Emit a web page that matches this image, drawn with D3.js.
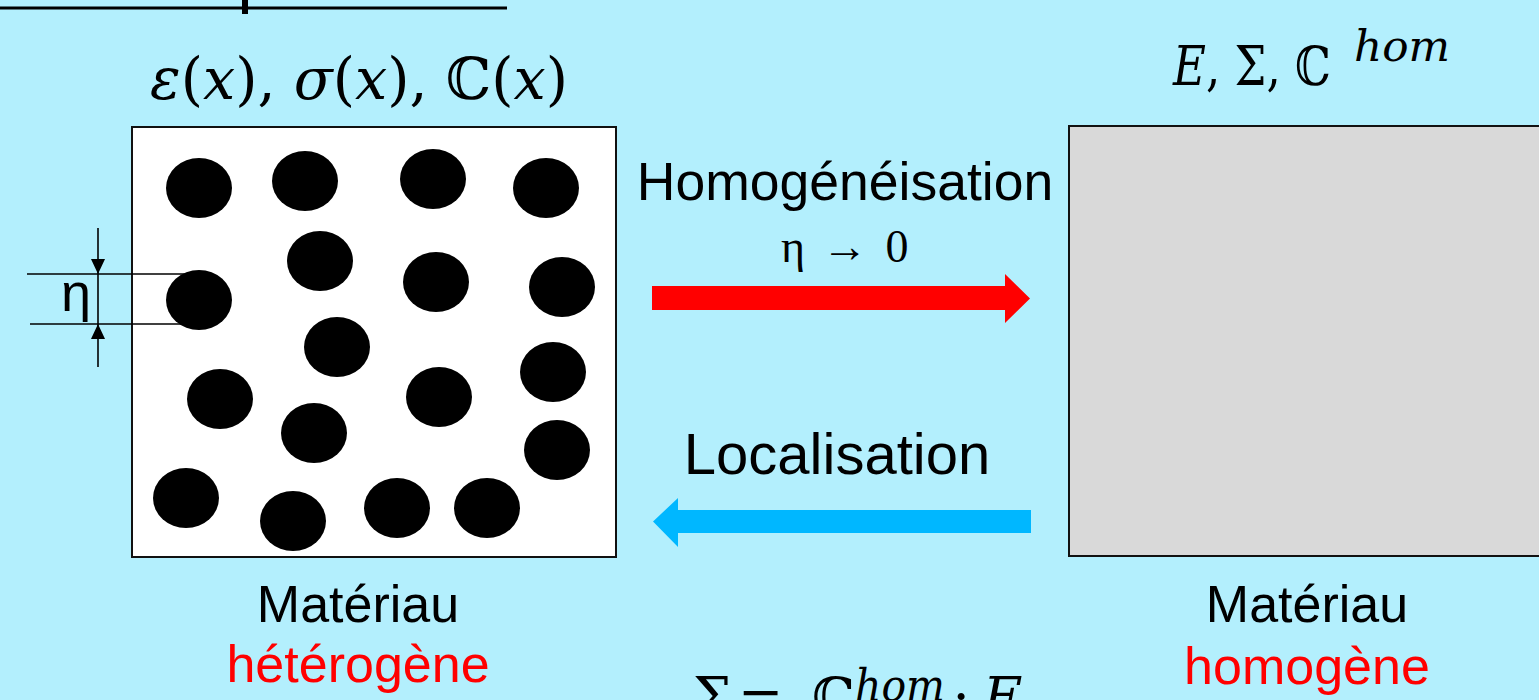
<!DOCTYPE html>
<html>
<head>
<meta charset="utf-8">
<script src="https://cdn.jsdelivr.net/npm/d3@7"></script>
<style>
  html, body { margin: 0; padding: 0; background: #b3effd; overflow: hidden; }
  svg { display: block; }
</style>
</head>
<body>
<svg id="chart" width="1539" height="700"></svg>
<script>
// ---- Data (inclusion centres, in the heterogeneous cell's own units: 0..484 x 0..430) ----
const inclusionX = [67, 173, 301, 414, 188, 304, 430, 67, 205, 88, 307, 421, 182, 425, 54, 161, 265, 355];
const inclusionY = [61, 54, 52, 61, 134, 155, 160, 173, 220, 272, 270, 245, 306, 323, 371, 394, 381, 381];
const cellDomain = [484, 430];

// math labels as [glyphs, italic?] runs
const labelLeftTop = [["ε", 1], ["(", 0], ["x", 1], ["), ", 0], ["σ", 1], ["(", 0], ["x", 1], ["), ", 0], ["ℂ", 0], ["(", 0], ["x", 1], [")", 0]];
const labelRightTop = [["E", 1], [", Σ, ", 0], ["ℂ", 0]];
const labelHom = "hom";
const labelArrowTop = "Homogénéisation";
const labelArrowSub = ["η", "→", "0"];
const labelArrowBottom = "Localisation";
const labelMaterial = "Matériau";
const labelHetero = "hétérogène";
const labelHomo = "homogène";
const labelEta = "η";

const svg = d3.select("#chart");
const W = 1539, H = 700;

svg.append("rect").attr("width", W).attr("height", H).attr("fill", "#b3effd");

// top rule with tick
svg.append("line").attr("x1", 0).attr("x2", 507).attr("y1", 8).attr("y2", 8)
  .attr("stroke", "#000").attr("stroke-width", 3);
svg.append("rect").attr("x", 242).attr("y", 0).attr("width", 6).attr("height", 14).attr("fill", "#000");

// ---- Heterogeneous cell ----
const box = {x0: 132, y0: 127, x1: 616, y1: 557};
const sx = d3.scaleLinear().domain([0, cellDomain[0]]).range([box.x0, box.x1]);
const sy = d3.scaleLinear().domain([0, cellDomain[1]]).range([box.y0, box.y1]);

svg.append("rect").attr("x", box.x0).attr("y", box.y0)
  .attr("width", box.x1 - box.x0).attr("height", box.y1 - box.y0)
  .attr("fill", "#fff").attr("stroke", "#111").attr("stroke-width", 2);

// dimension lines (eta)
const dim = svg.append("g").attr("stroke", "#000").attr("stroke-width", 1.6);
dim.append("line").attr("x1", 27).attr("x2", 199).attr("y1", 274).attr("y2", 274);
dim.append("line").attr("x1", 30).attr("x2", 193).attr("y1", 324).attr("y2", 324);
dim.append("line").attr("x1", 98).attr("x2", 98).attr("y1", 228).attr("y2", 367);
svg.append("path").attr("d", "M91,259 L105,259 L98,274 Z").attr("fill", "#000");
svg.append("path").attr("d", "M91,339 L105,339 L98,324 Z").attr("fill", "#000");
svg.append("text").attr("x", 76).attr("y", 311).attr("text-anchor", "middle")
  .attr("font-family", "Liberation Sans, Arial, sans-serif").attr("font-size", 54)
  .attr("fill", "#000").text(labelEta);

const idx = d3.range(inclusionX.length);
svg.append("g").selectAll("ellipse").data(idx).join("ellipse")
  .attr("cx", i => sx(inclusionX[i])).attr("cy", i => sy(inclusionY[i]))
  .attr("rx", 33).attr("ry", 30).attr("fill", "#000");

// ---- Homogeneous cell ----
svg.append("rect").attr("x", 1069).attr("y", 126).attr("width", 500).attr("height", 430)
  .attr("fill", "#d9d9d9").attr("stroke", "#111").attr("stroke-width", 2);

// ---- Math labels ----
const mathFont = "'DejaVu Serif', 'Liberation Serif', serif";
function mathText(x, y, size, runs, len) {
  const t = svg.append("text").attr("x", x).attr("y", y)
    .attr("font-family", mathFont).attr("font-size", size).attr("fill", "#000");
  if (len) t.attr("textLength", len).attr("lengthAdjust", "spacingAndGlyphs");
  t.selectAll("tspan").data(runs).join("tspan")
    .attr("font-style", d => d[1] ? "italic" : "normal")
    .text(d => d[0]);
  return t;
}
mathText(150, 99, 58, labelLeftTop, 418);
mathText(1173, 85, 54, labelRightTop, 158);
svg.append("text").attr("x", 1354).attr("y", 61)
  .attr("font-family", mathFont).attr("font-style", "italic").attr("font-size", 42)
  .attr("textLength", 96).attr("lengthAdjust", "spacingAndGlyphs")
  .attr("fill", "#000").text(labelHom);

// bottom formula (cut by frame as in the original)
const fb = svg.append("g").attr("font-family", mathFont).attr("fill", "#000");
fb.append("text").attr("x", 693).attr("y", 716).attr("font-size", 54).text("Σ");
fb.append("text").attr("x", 738).attr("y", 716).attr("font-size", 54).text("=");
fb.append("text").attr("x", 812).attr("y", 716).attr("font-size", 54).text("ℂ");
fb.append("text").attr("x", 855).attr("y", 701).attr("font-size", 44).attr("font-style", "italic")
  .attr("textLength", 90).attr("lengthAdjust", "spacingAndGlyphs").text(labelHom);
fb.append("text").attr("x", 952).attr("y", 716).attr("font-size", 54).text(":");
fb.append("text").attr("x", 983).attr("y", 716).attr("font-size", 54).attr("font-style", "italic").text("E");

// ---- Arrows ----
const sans = "Liberation Sans, Arial, sans-serif";
svg.append("text").attr("x", 845).attr("y", 200).attr("text-anchor", "middle")
  .attr("font-family", sans).attr("font-size", 53.5).attr("fill", "#000").text(labelArrowTop);
const sub = svg.append("g").attr("font-family", "Liberation Serif, serif").attr("font-size", 46).attr("fill", "#000");
sub.append("text").attr("x", 793).attr("y", 262).attr("text-anchor", "middle").text(labelArrowSub[0]);
sub.append("text").attr("x", 845).attr("y", 262).attr("text-anchor", "middle").text(labelArrowSub[1]);
sub.append("text").attr("x", 897).attr("y", 262).attr("text-anchor", "middle").text(labelArrowSub[2]);

const red = d3.path();
red.moveTo(652, 286); red.lineTo(1005, 286); red.lineTo(1005, 274); red.lineTo(1030, 298.5);
red.lineTo(1005, 323); red.lineTo(1005, 310); red.lineTo(652, 310); red.closePath();
svg.append("path").attr("d", red.toString()).attr("fill", "#ff0000");

svg.append("text").attr("x", 837).attr("y", 474).attr("text-anchor", "middle")
  .attr("font-family", sans).attr("font-size", 58).attr("fill", "#000").text(labelArrowBottom);

const blue = d3.path();
blue.moveTo(1031, 510); blue.lineTo(678, 510); blue.lineTo(678, 498); blue.lineTo(653, 521.5);
blue.lineTo(678, 547); blue.lineTo(678, 533); blue.lineTo(1031, 533); blue.closePath();
svg.append("path").attr("d", blue.toString()).attr("fill", "#00b7ff");

// ---- Material captions ----
const cap = svg.append("g").attr("font-family", sans).attr("font-size", 52).attr("text-anchor", "middle");
cap.append("text").attr("x", 358).attr("y", 622).attr("fill", "#000").text(labelMaterial);
cap.append("text").attr("x", 358).attr("y", 682).attr("fill", "#ff0000").text(labelHetero);
cap.append("text").attr("x", 1307).attr("y", 622).attr("fill", "#000").text(labelMaterial);
cap.append("text").attr("x", 1307).attr("y", 684).attr("fill", "#ff0000").text(labelHomo);
</script>
</body>
</html>
